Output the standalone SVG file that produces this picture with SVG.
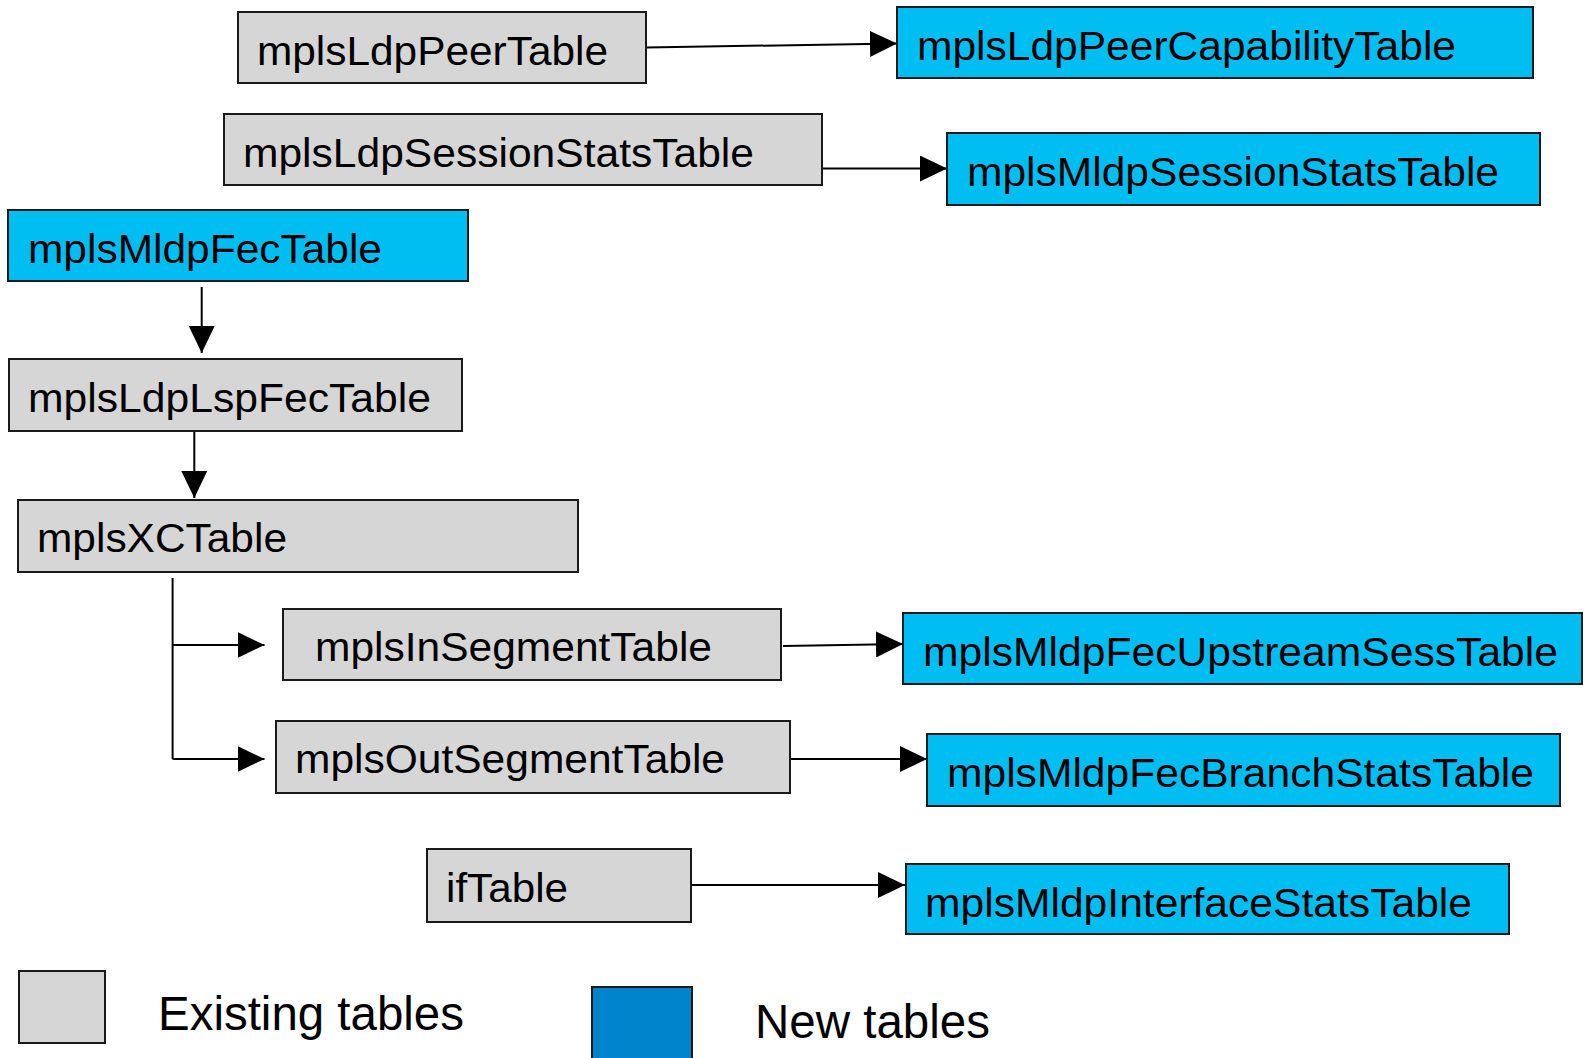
<svg xmlns="http://www.w3.org/2000/svg" width="1583" height="1058" viewBox="0 0 1583 1058">
<style>
.old{fill:#D6D6D6;stroke:#1a1a1a;stroke-width:2}
.new{fill:#00BEF2;stroke:#1a1a1a;stroke-width:2}
.t{font-family:"Liberation Sans",Arial,sans-serif;font-size:40px;fill:#000}
.lg{font-family:"Liberation Sans",Arial,sans-serif;font-size:48px;fill:#000}
.c{stroke:#000;stroke-width:2;fill:none;marker-end:url(#ah)}
.l{stroke:#000;stroke-width:2;fill:none}
</style>
<defs>
<marker id="ah" markerUnits="userSpaceOnUse" markerWidth="28" markerHeight="26" refX="27" refY="13" orient="auto">
<path d="M0,0 L27,13 L0,26 Z" fill="#000"/>
</marker>
</defs>
<rect width="1583" height="1058" fill="#fff"/>
<g id="connectors">
<line class="c" x1="646" y1="47.5" x2="897" y2="43.5"/>
<line class="c" x1="823" y1="168.5" x2="947" y2="168.5"/>
<line class="c" x1="201.7" y1="287" x2="201.7" y2="353"/>
<line class="c" x1="194.3" y1="431" x2="194.3" y2="498"/>
<polyline class="l" points="172.6,578 172.6,759"/>
<line class="c" x1="172.6" y1="645" x2="264.5" y2="645"/>
<line class="c" x1="172.6" y1="759" x2="264.5" y2="759"/>
<line class="c" x1="783" y1="646" x2="903" y2="644"/>
<line class="c" x1="790" y1="759" x2="927" y2="759"/>
<line class="c" x1="691" y1="885" x2="905" y2="885"/>
</g>
<g id="mplsLdpPeerTable"><rect class="old" x="238" y="12" width="408" height="71"/><text class="t" x="257" y="64.5" textLength="351" lengthAdjust="spacingAndGlyphs">mplsLdpPeerTable</text></g>
<g id="mplsLdpPeerCapabilityTable"><rect class="new" x="897" y="7" width="636" height="71"/><text class="t" x="917" y="59.5" textLength="539" lengthAdjust="spacingAndGlyphs">mplsLdpPeerCapabilityTable</text></g>
<g id="mplsLdpSessionStatsTable"><rect class="old" x="224" y="114" width="598" height="71"/><text class="t" x="243" y="166.5" textLength="511" lengthAdjust="spacingAndGlyphs">mplsLdpSessionStatsTable</text></g>
<g id="mplsMldpSessionStatsTable"><rect class="new" x="947" y="133" width="593" height="72"/><text class="t" x="967" y="185.5" textLength="532" lengthAdjust="spacingAndGlyphs">mplsMldpSessionStatsTable</text></g>
<g id="mplsMldpFecTable"><rect class="new" x="8" y="210" width="460" height="71"/><text class="t" x="28" y="262.5" textLength="354" lengthAdjust="spacingAndGlyphs">mplsMldpFecTable</text></g>
<g id="mplsLdpLspFecTable"><rect class="old" x="9" y="359" width="453" height="72"/><text class="t" x="28" y="411.5" textLength="403" lengthAdjust="spacingAndGlyphs">mplsLdpLspFecTable</text></g>
<g id="mplsXCTable"><rect class="old" x="18" y="500" width="560" height="72"/><text class="t" x="37" y="552" textLength="250" lengthAdjust="spacingAndGlyphs">mplsXCTable</text></g>
<g id="mplsInSegmentTable"><rect class="old" x="283" y="609" width="498" height="71"/><text class="t" x="315" y="661" textLength="397" lengthAdjust="spacingAndGlyphs">mplsInSegmentTable</text></g>
<g id="mplsMldpFecUpstreamSessTable"><rect class="new" x="903" y="613" width="679" height="71"/><text class="t" x="923" y="666" textLength="635" lengthAdjust="spacingAndGlyphs">mplsMldpFecUpstreamSessTable</text></g>
<g id="mplsOutSegmentTable"><rect class="old" x="276" y="721" width="514" height="72"/><text class="t" x="295" y="773" textLength="430" lengthAdjust="spacingAndGlyphs">mplsOutSegmentTable</text></g>
<g id="mplsMldpFecBranchStatsTable"><rect class="new" x="927" y="734" width="633" height="72"/><text class="t" x="947" y="787" textLength="587" lengthAdjust="spacingAndGlyphs">mplsMldpFecBranchStatsTable</text></g>
<g id="ifTable"><rect class="old" x="427" y="849" width="264" height="73"/><text class="t" x="446" y="901.5" textLength="122" lengthAdjust="spacingAndGlyphs">ifTable</text></g>
<g id="mplsMldpInterfaceStatsTable"><rect class="new" x="906" y="864" width="603" height="70"/><text class="t" x="925" y="916.5" textLength="547" lengthAdjust="spacingAndGlyphs">mplsMldpInterfaceStatsTable</text></g>
<g id="legend">
<rect class="old" x="19" y="971" width="86" height="72"/>
<text class="lg" x="158" y="1029.5" textLength="306" lengthAdjust="spacingAndGlyphs">Existing tables</text>
<rect x="592" y="987" width="100" height="80" fill="#0085CC" stroke="#1a1a1a" stroke-width="2"/>
<text class="lg" x="755" y="1038" textLength="235" lengthAdjust="spacingAndGlyphs">New tables</text>
</g>
</svg>
